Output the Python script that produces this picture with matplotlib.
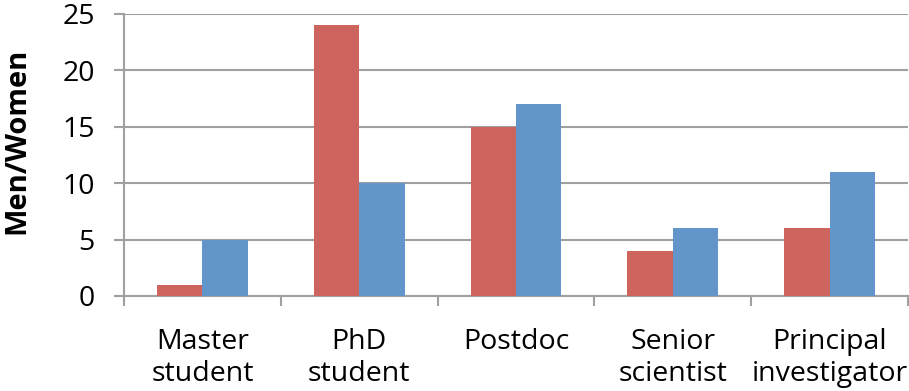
import numpy as np
import matplotlib.pyplot as plt

plt.rcParams['font.family'] = ['Open Sans', 'DejaVu Sans']

categories = ['Master\nstudent', 'PhD\nstudent', 'Postdoc', 'Senior\nscientist', 'Principal\ninvestigator']
men = [1, 24, 15, 4, 6]
women = [5, 10, 17, 6, 11]
yticks = [0, 5, 10, 15, 20, 25]

red = '#CD645E'
blue = '#6296CA'
grid = '#A0A0A0'


def main():
    fig = plt.figure(figsize=(9.09, 3.91), dpi=100)
    ax = fig.add_axes([124 / 909, (391 - 296) / 391, (908 - 124) / 909, (296 - 14) / 391])

    x = np.arange(len(categories))
    w = 0.29
    ax.bar(x - w / 2, men, w, color=red, zorder=3)
    ax.bar(x + w / 2, women, w, color=blue, zorder=3)

    ax.set_xlim(-0.5, len(categories) - 0.5)
    ax.set_ylim(0, 25)
    ax.set_yticks(yticks)
    ax.set_yticklabels([str(v) for v in yticks], fontsize=20.5)
    ax.yaxis.grid(True, color=grid, linewidth=1.5, zorder=0)
    ax.tick_params(axis='y', length=7, width=1.5, color=grid, pad=14)

    ax.set_xticks(x)
    ax.set_xticklabels(categories, fontsize=20.5, linespacing=1.18)
    ax.tick_params(axis='x', length=0, pad=23)
    ax.set_xticks(np.arange(len(categories) + 1) - 0.5, minor=True)
    ax.tick_params(axis='x', which='minor', length=7, width=1.5, color=grid)

    for s in ['top', 'right']:
        ax.spines[s].set_visible(False)
    for s in ['left', 'bottom']:
        ax.spines[s].set_color(grid)
        ax.spines[s].set_linewidth(1.5)

    fig.text(17 / 909, 1 - 141 / 391, 'Men/Women', fontsize=21, fontweight='bold',
             rotation=90, ha='center', va='center')

    fig.savefig('out.png', dpi=100)


if __name__ == '__main__':
    main()
